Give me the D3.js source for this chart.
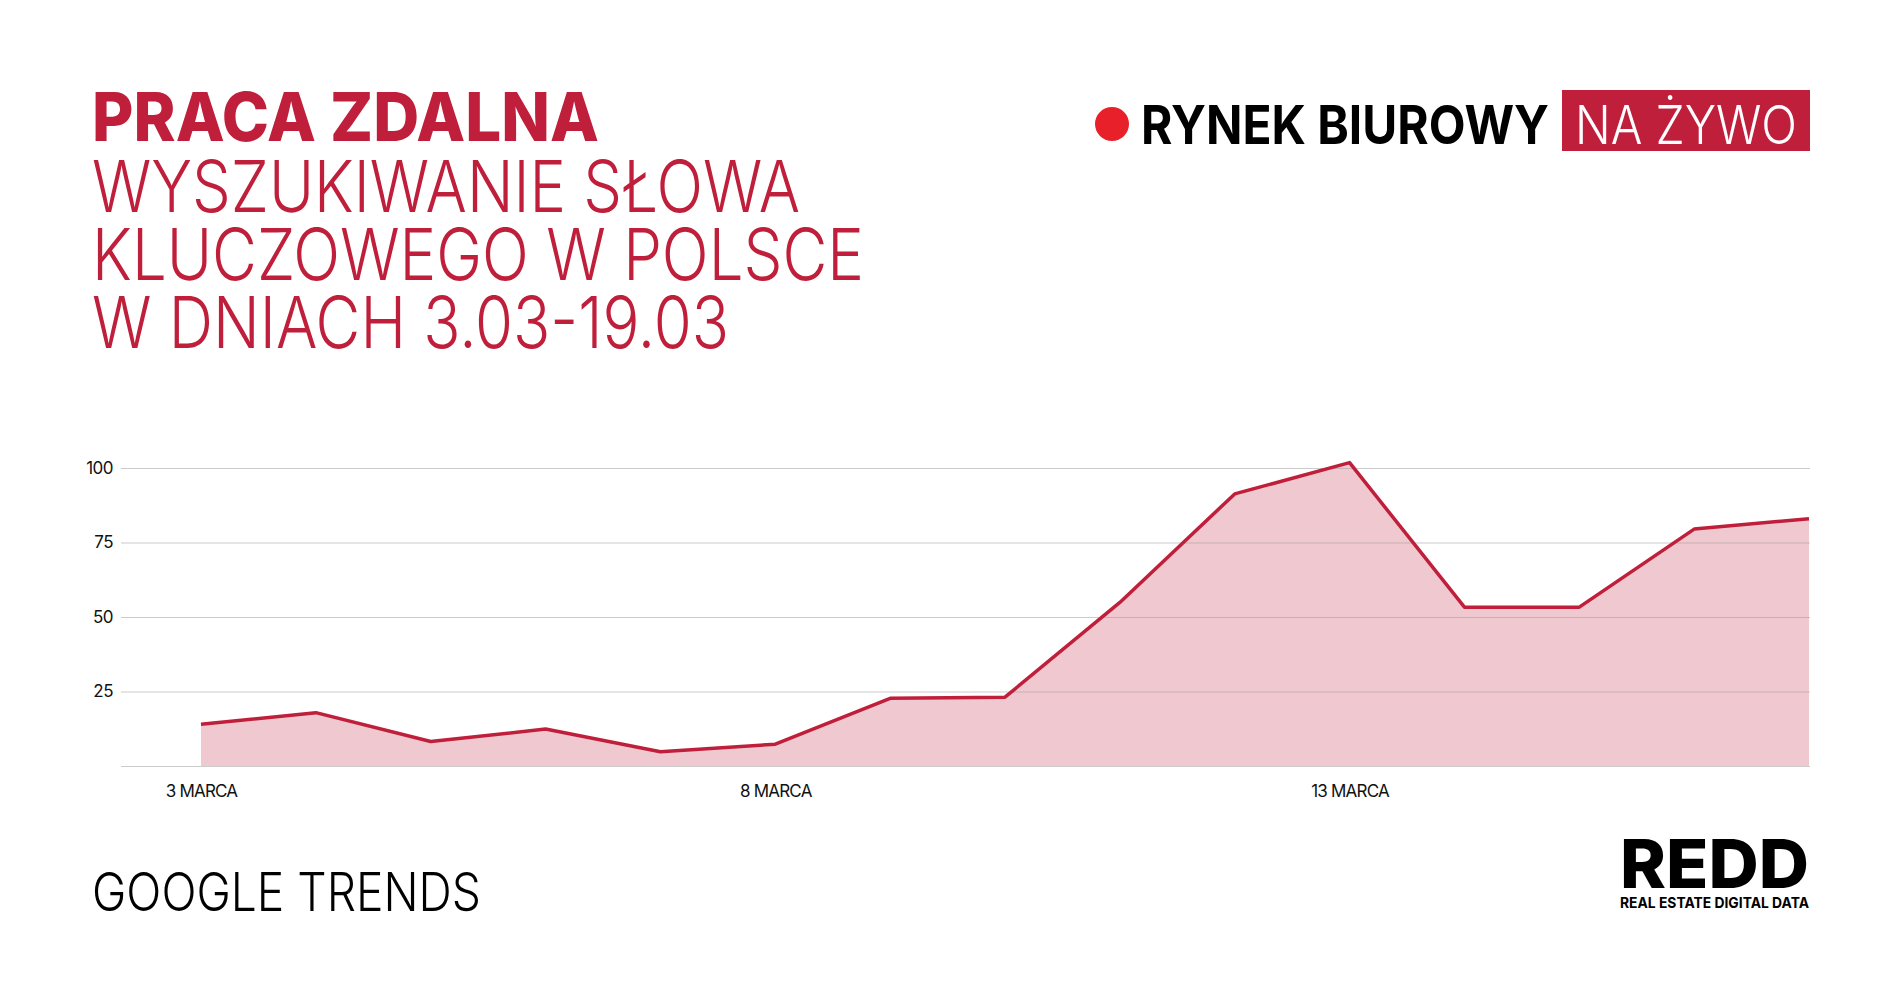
<!DOCTYPE html>
<html>
<head>
<meta charset="utf-8">
<script src="https://cdn.jsdelivr.net/npm/d3@7/dist/d3.min.js"></script>
<style>
  html, body { margin: 0; padding: 0; background: #fff; }
  svg { display: block; font-family: Inter, "Noto Sans", sans-serif; }
</style>
</head>
<body>
<svg id="chart" width="1900" height="1000"></svg>
<script>
// ---- data ----
const days = [3, 4, 5, 6, 7, 8, 9, 10, 11, 12, 13, 14, 15, 16, 17];
const values = [14, 17.9, 8.2, 12.4, 4.8, 7.3, 22.7, 23.1, 54.9, 91.3, 101.8, 53.3, 53.3, 79.5, 83];
const xTickDays = [3, 8, 13];
const xTickLabels = ["3 MARCA", "8 MARCA", "13 MARCA"];
const yTicks = [0, 25, 50, 75, 100];
const yTickLabels = ["", "25", "50", "75", "100"];
const titleLines = ["WYSZUKIWANIE SŁOWA", "KLUCZOWEGO W POLSCE", "W DNIACH 3.03-19.03"];

const RED = "#c01f3b";
const svg = d3.select("#chart");

// ---- header ----
svg.append("text").attr("x", 92).attr("y", 141)
  .attr("font-size", 68).attr("font-weight", 800).attr("fill", RED)
  .attr("textLength", 507).attr("lengthAdjust", "spacingAndGlyphs")
  .text("PRACA ZDALNA");
const subW = [708, 772, 637];
titleLines.forEach((t, i) => {
  svg.append("text").attr("x", 92).attr("y", 212 + i * 68)
    .attr("font-size", 72).attr("font-weight", 300).attr("fill", RED)
    .attr("textLength", subW[i]).attr("lengthAdjust", "spacingAndGlyphs")
    .text(t);
});

// top-right badge
svg.append("circle").attr("cx", 1112).attr("cy", 124).attr("r", 17).attr("fill", "#e8202a");
svg.append("text").attr("x", 1141).attr("y", 144)
  .attr("font-size", 54).attr("font-weight", 700).attr("fill", "#000")
  .attr("textLength", 408).attr("lengthAdjust", "spacingAndGlyphs")
  .text("RYNEK BIUROWY");
svg.append("rect").attr("x", 1562).attr("y", 90).attr("width", 248).attr("height", 61).attr("fill", RED);
svg.append("text").attr("x", 1575).attr("y", 144)
  .attr("font-size", 54).attr("font-weight", 300).attr("fill", "#fff")
  .attr("textLength", 222).attr("lengthAdjust", "spacingAndGlyphs")
  .text("NA ŻYWO");

// ---- chart ----
const x = d3.scaleLinear().domain([d3.min(days), d3.max(days)]).range([201, 1809]);
const y = d3.scaleLinear().domain([0, 100]).range([766, 468]);
const gridX0 = 121, gridX1 = 1810;

const area = d3.area().x((d, i) => x(days[i])).y0(y(0)).y1(d => y(d));
const line = d3.line().x((d, i) => x(days[i])).y(d => y(d));

svg.append("path").datum(values).attr("d", area).attr("fill", "#f0c8cf");

// gridlines + y labels
const yAxis = d3.axisLeft(y).tickValues(yTicks)
  .tickSize(-(gridX1 - gridX0))
  .tickFormat((d, i) => yTickLabels[i]);
const gy = svg.append("g").attr("transform", `translate(${gridX0},0)`).call(yAxis);
gy.select(".domain").remove();
gy.selectAll(".tick line").attr("stroke", "#9a9a9a").attr("stroke-opacity", 0.5).attr("stroke-width", 1);
gy.selectAll(".tick text").attr("x", -8).attr("font-size", 17).attr("fill", "#111")
  .attr("font-family", "Inter, sans-serif").attr("letter-spacing", -0.5);

svg.append("path").datum(values).attr("d", line)
  .attr("fill", "none").attr("stroke", RED).attr("stroke-width", 3.5).attr("stroke-linejoin", "round");

// x labels
const xAxis = d3.axisBottom(x).tickValues(xTickDays).tickSize(0)
  .tickFormat((d, i) => xTickLabels[i]);
const gx = svg.append("g").attr("transform", `translate(0,${y(0)})`).call(xAxis);
gx.select(".domain").remove();
gx.selectAll(".tick text").attr("dy", 0).attr("y", 31).attr("font-size", 17).attr("fill", "#111")
  .attr("font-family", "Inter, sans-serif").attr("letter-spacing", -0.8);

// ---- footer ----
svg.append("text").attr("x", 92).attr("y", 911)
  .attr("font-size", 53).attr("font-weight", 300).attr("fill", "#000")
  .attr("textLength", 389).attr("lengthAdjust", "spacingAndGlyphs")
  .text("GOOGLE TRENDS");
svg.append("text").attr("x", 1620).attr("y", 888)
  .attr("font-size", 68).attr("font-weight", 800).attr("fill", "#000")
  .attr("textLength", 189).attr("lengthAdjust", "spacingAndGlyphs")
  .text("REDD");
svg.append("text").attr("x", 1620).attr("y", 908)
  .attr("font-size", 15).attr("font-weight", 700).attr("fill", "#000")
  .attr("textLength", 189).attr("lengthAdjust", "spacingAndGlyphs")
  .text("REAL ESTATE DIGITAL DATA");
</script>
</body>
</html>
